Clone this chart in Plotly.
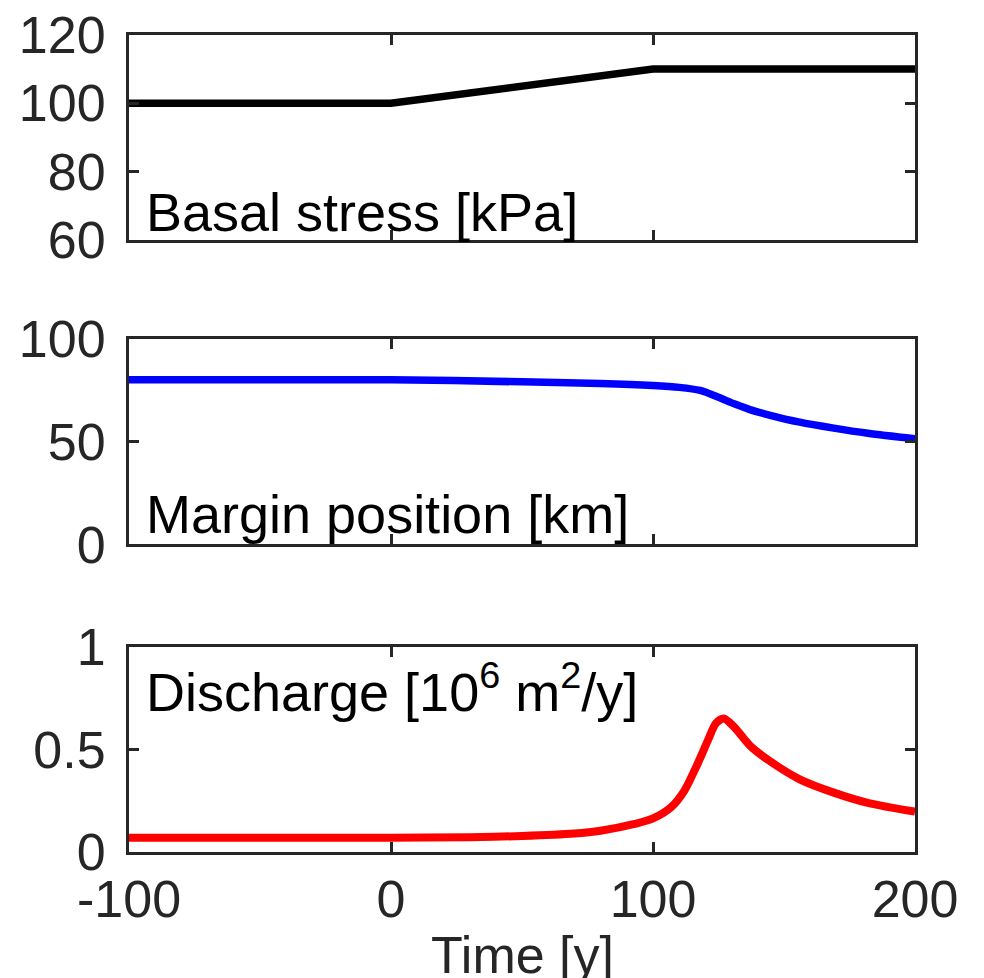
import plotly.graph_objects as go

# ---- data ----
stress_t = [-100, 0, 100, 200]
stress_v = [100, 100, 110, 110]

margin_t = [-100, -50, 0, 50, 80, 100, 110, 118, 125, 131, 137, 144, 156, 169, 182, 200]
margin_v = [80, 80, 80, 79, 78.2, 77.2, 76.3, 74.8, 71.5, 68.3, 65.5, 63, 59.4, 56.5, 54, 51.3]

disch_t = [-100, -50, 0, 30, 50, 70, 80, 93, 100, 107, 112, 117, 121, 124, 127, 131, 137, 144, 156, 169, 182, 200]
disch_v = [0.07, 0.07, 0.07, 0.072, 0.078, 0.09, 0.104, 0.137, 0.164, 0.22, 0.30, 0.43, 0.546, 0.628, 0.652,
           0.61, 0.52, 0.449, 0.355, 0.29, 0.24, 0.197]

x_ticks = [-100, 0, 100, 200]
x_ticklabels = ["-100", "0", "100", "200"]
y1_ticks = [60, 80, 100, 120]
y2_ticks = [0, 50, 100]
y3_ticks = [0, 0.5, 1]
y3_ticklabels = ["0", "0.5", "1"]

FONT = "Liberation Sans, Arial, Helvetica, sans-serif"
AX = "#262626"

fig = go.Figure()
fig.add_trace(go.Scatter(x=stress_t, y=stress_v, mode="lines", line=dict(color="black", width=7.5),
                         xaxis="x", yaxis="y", showlegend=False, cliponaxis=False))
fig.add_trace(go.Scatter(x=margin_t, y=margin_v, mode="lines",
                         line=dict(color="#0000ff", width=7.5, shape="spline", smoothing=0.8),
                         xaxis="x2", yaxis="y2", showlegend=False, cliponaxis=False))
fig.add_trace(go.Scatter(x=disch_t, y=disch_v, mode="lines",
                         line=dict(color="#ff0000", width=8, shape="spline", smoothing=0.8),
                         xaxis="x3", yaxis="y3", showlegend=False, cliponaxis=False))

H = 818.0
def dom(top, bot):
    return [(852 - bot) / H, (852 - top) / H]

common_x = dict(range=[-100, 200], tickvals=x_ticks, ticktext=x_ticklabels, ticks="inside", ticklen=10, tickwidth=2.5,
                tickcolor=AX, showline=True, linecolor=AX, linewidth=3, mirror="ticks", showgrid=False,
                zeroline=False, tickfont=dict(family=FONT, size=52, color=AX), automargin=False,
                ticklabeloverflow="allow")
common_y = dict(ticks="inside", ticklen=10, tickwidth=2.5, tickcolor=AX, showline=True, linecolor=AX, linewidth=3,
                mirror="ticks", showgrid=False, zeroline=False, tickfont=dict(family=FONT, size=52, color=AX),
                ticklabelstandoff=10, automargin=False, ticklabeloverflow="allow")

fig.update_layout(
    width=984, height=978,
    margin=dict(l=121, r=77, t=27, b=134),
    plot_bgcolor="white", paper_bgcolor="white",
    xaxis=dict(common_x, anchor="y", showticklabels=False),
    xaxis2=dict(common_x, anchor="y2", showticklabels=False),
    xaxis3=dict(common_x, anchor="y3", showticklabels=True),
    yaxis=dict(common_y, anchor="x", domain=dom(34, 239), range=[60, 120], tickvals=y1_ticks),
    yaxis2=dict(common_y, anchor="x2", domain=dom(338, 544), range=[0, 100], tickvals=y2_ticks),
    yaxis3=dict(common_y, anchor="x3", domain=dom(647, 852), range=[0, 1], tickvals=y3_ticks, ticktext=y3_ticklabels),
)

def ann(text, y_px, yanchor="middle"):
    return dict(text=text, xref="paper", yref="paper", x=(142 - 127) / 789.0, y=(852 - y_px) / H,
                xanchor="left", yanchor=yanchor, showarrow=False, font=dict(family=FONT, size=54, color="black"))

fig.add_annotation(ann("Basal stress [kPa]", 211))
fig.add_annotation(ann("Margin position [km]", 514))
fig.add_annotation(ann("Discharge [10<sup>6</sup> m<sup>2</sup>/y]", 688))
fig.add_annotation(dict(text="Time [y]", xref="paper", yref="paper", x=0.5, y=(852 - 955) / H,
                        xanchor="center", yanchor="middle", showarrow=False,
                        font=dict(family=FONT, size=52, color=AX)))

fig.write_html("out.html")
